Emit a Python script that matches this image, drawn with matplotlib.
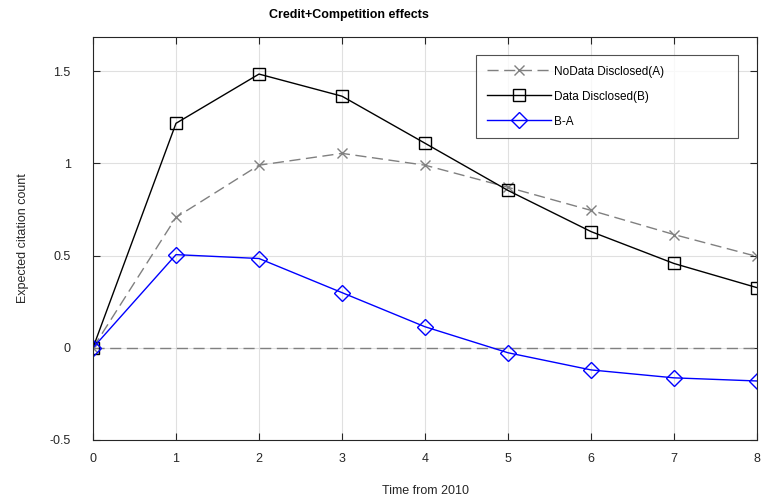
import matplotlib
matplotlib.use('Agg')
import matplotlib.pyplot as plt

plt.rcParams['font.family'] = ['Liberation Sans', 'DejaVu Sans']

years = [0, 1, 2, 3, 4, 5, 6, 7, 8]
nodata_a = [0, 0.707, 0.99, 1.054, 0.99, 0.87, 0.745, 0.614, 0.495]
data_b = [0, 1.217, 1.484, 1.364, 1.109, 0.853, 0.630, 0.457, 0.326]
diff_ba = [0, 0.505, 0.484, 0.299, 0.114, -0.027, -0.12, -0.163, -0.18]
zero_line = [0] * len(years)

fig = plt.figure(figsize=(7.61, 5.0), dpi=100)
ax = fig.add_axes([93 / 761, 60 / 500, 664 / 761, 403 / 500])

ax.plot(years, zero_line, '--', color='#808080', lw=1.0, dashes=(8, 4))
ax.plot(years, nodata_a, '--x', color='#808080', lw=1.0, dashes=(8, 4),
        markersize=7, markeredgewidth=1.0, label='NoData Disclosed(A)')
ax.plot(years, data_b, '-s', color='black', lw=1.0, markersize=8.5,
        markerfacecolor='none', markeredgewidth=1.0, label='Data Disclosed(B)')
ax.plot(years, diff_ba, '-D', color='#0000ff', lw=1.0, markersize=8,
        markerfacecolor='none', markeredgewidth=1.0, label='B-A')

ax.set_xlim(0, 8)
ax.set_ylim(-0.5, 1.685)
ax.set_xticks(years)
ax.set_yticks([-0.5, 0, 0.5, 1, 1.5])
ax.set_yticklabels(['-0.5', '0', '0.5', '1', '1.5'])
ax.grid(True, color='#e0e0e0', lw=0.8)
ax.set_axisbelow(True)
ax.tick_params(direction='in', top=True, right=True, length=5,
               labelsize=9, colors='#262626', pad=16)
ax.tick_params(axis='x', pad=9)
for sp in ax.spines.values():
    sp.set_color('#262626')
    sp.set_linewidth(0.8)

ax.set_xlabel('Time from 2010', fontsize=9, color='#262626', labelpad=15)
ax.set_ylabel('Expected citation count', fontsize=9, color='#262626', labelpad=15)
fig.text(349 / 761, 1 - 15 / 500, 'Credit+Competition effects', fontsize=9,
         fontweight='bold', ha='center', va='center')

leg = ax.legend(loc='lower left', bbox_to_anchor=(0.577, 0.749, 0.394, 0.214),
                mode='expand', fontsize=8.5,
                frameon=True, fancybox=False, edgecolor='#262626',
                handlelength=5.4, borderpad=0.9, labelspacing=1.1,
                handletextpad=0.3, borderaxespad=0)
leg.get_frame().set_linewidth(0.8)

fig.savefig('out.png', dpi=100)
